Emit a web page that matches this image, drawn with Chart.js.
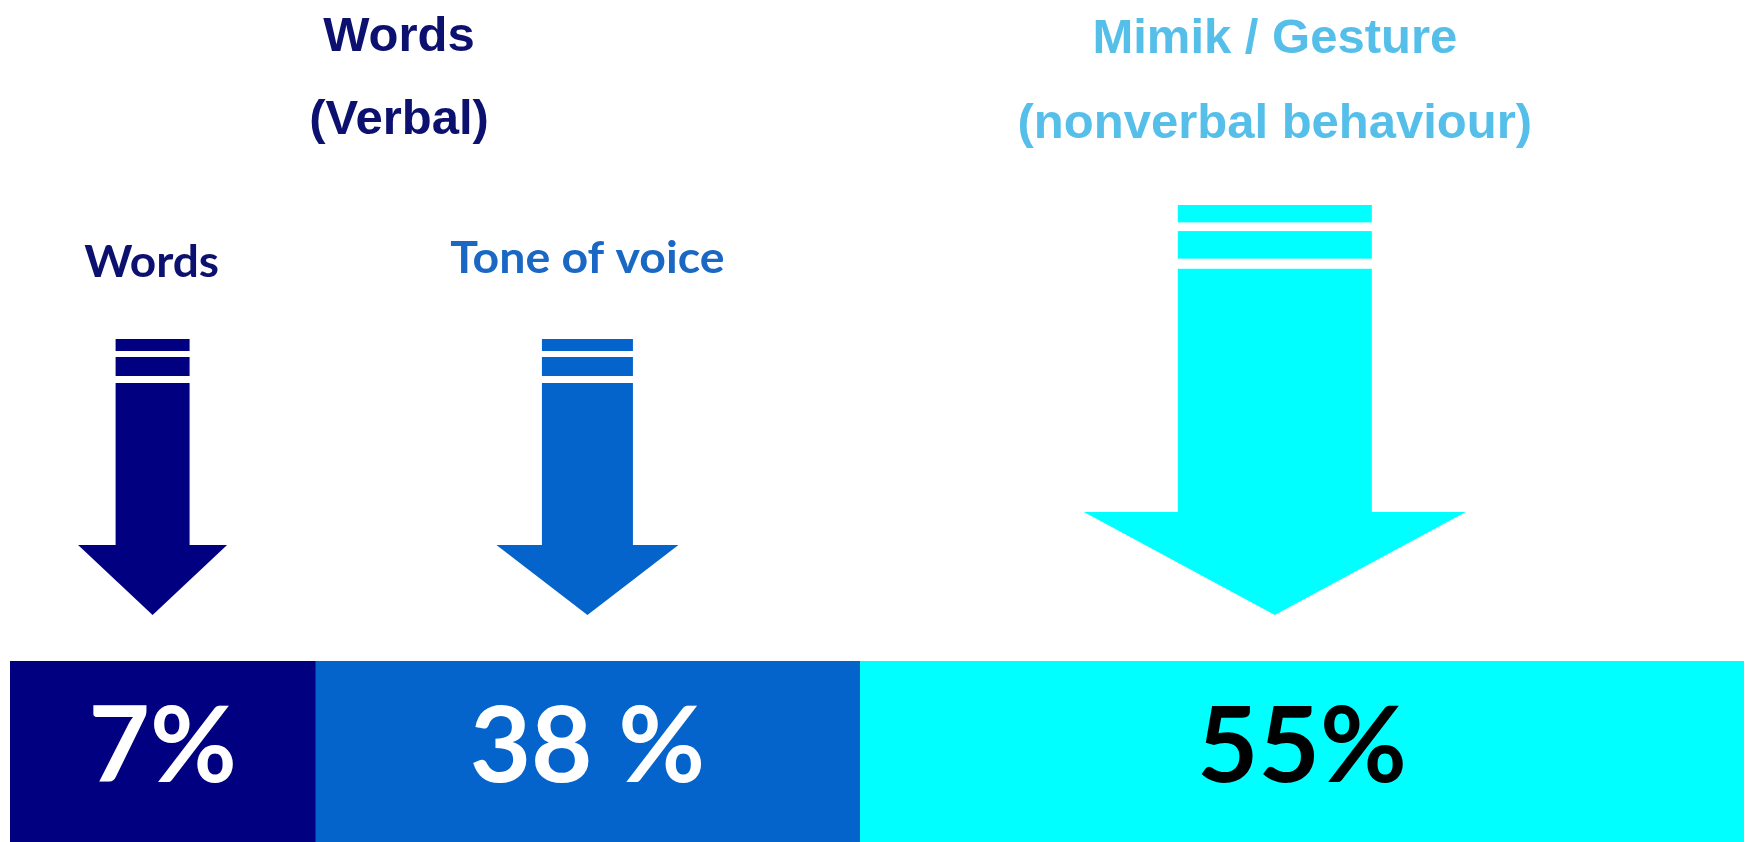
<!DOCTYPE html>
<html>
<head>
<meta charset="utf-8">
<script src="https://cdn.jsdelivr.net/npm/chart.js@4.4.0/dist/chart.umd.min.js"></script>
<style>
  html, body { margin: 0; padding: 0; background: #fff; }
  #wrap { width: 1752px; height: 842px; position: relative; }
</style>
</head>
<body>
<div id="wrap"><canvas id="chart"></canvas></div>
<script>
const categories = ['Words', 'Tone of voice', 'Mimik / Gesture'];
const percentValues = [7, 38, 55];
const percentLabels = ['7%', '38 %', '55%'];
// how much of the bar each block takes in the picture (blocks are not to scale)
const blockShare = [17.6, 31.4, 51.0];
const groupTitles = [['Words', '(Verbal)'], ['Mimik / Gesture', '(nonverbal behaviour)']];

const segColors = ['#000080', '#0563cc', '#00ffff'];
const valueColors = ['#ffffff', '#ffffff', '#000000'];
const labelColors = ['#0c1170', '#1a68c4'];
const groupColors = ['#0c1170', '#55bfea'];

// arrow shapes above each block
const arrowStyle = [
  { dx: -10, top: 339, shaft: 74, head: 149, headH: 70, stripe: 1 },
  { dx: 0, top: 339, shaft: 91, head: 182, headH: 70, stripe: 1 },
  { dx: -27, top: 205, shaft: 194, head: 382, headH: 103, stripe: 1.45 }
];

function drawArrow(ctx, cx, tip, a, color) {
  const bands = [12, 6, 19, 7].map(v => v * a.stripe);
  const left = cx - a.shaft / 2;
  const headTop = tip - a.headH;
  ctx.fillStyle = color;
  let y = a.top;
  ctx.fillRect(left, y, a.shaft, bands[0]);
  y += bands[0] + bands[1];
  ctx.fillRect(left, y, a.shaft, bands[2]);
  y += bands[2] + bands[3];
  ctx.fillRect(left, y, a.shaft, headTop - y + 1);
  ctx.beginPath();
  ctx.moveTo(cx - a.head / 2, headTop);
  ctx.lineTo(cx + a.head / 2, headTop);
  ctx.lineTo(cx, tip);
  ctx.closePath();
  ctx.fill();
}

// text stretched sideways a little
function wideText(ctx, text, x, y, sx) {
  ctx.save();
  ctx.translate(x, y);
  ctx.scale(sx, 1);
  ctx.fillText(text, 0, 0);
  ctx.restore();
}

const overlay = {
  id: 'overlay',
  afterDatasetsDraw(chart) {
    const ctx = chart.ctx;
    const area = chart.chartArea;
    const centers = chart.data.datasets.map((ds, i) => {
      const el = chart.getDatasetMeta(i).data[0];
      return (el.x + el.base) / 2;
    });
    ctx.save();
    ctx.textAlign = 'center';
    ctx.textBaseline = 'alphabetic';

    // percent labels inside the bar
    ctx.font = 'bold 106px Lato';
    centers.forEach((cx, i) => {
      ctx.fillStyle = valueColors[i];
      ctx.fillText(percentLabels[i], cx, 782);
    });

    // arrows
    const tip = area.top - 46;
    centers.forEach((cx, i) => {
      drawArrow(ctx, cx + arrowStyle[i].dx, tip, arrowStyle[i], segColors[i]);
    });

    // small labels over the first two arrows
    ctx.font = 'bold 43px Lato';
    ctx.fillStyle = labelColors[0];
    wideText(ctx, categories[0], centers[0] - 11, 277, 1.07);
    ctx.fillStyle = labelColors[1];
    wideText(ctx, categories[1], centers[1], 273, 1.08);

    // group titles
    ctx.font = 'bold 49px "Liberation Sans"';
    const gx = [(centers[0] + centers[1]) / 2 + 24, centers[2] - 27];
    groupTitles.forEach((lines, g) => {
      ctx.fillStyle = groupColors[g];
      ctx.fillText(lines[0], gx[g], g === 0 ? 51 : 53);
      ctx.fillText(lines[1], gx[g], g === 0 ? 134 : 138);
    });
    ctx.restore();
  }
};

const datasets = categories.map((c, i) => ({
  label: c,
  data: [blockShare[i]],
  backgroundColor: segColors[i],
  borderWidth: 0,
  borderSkipped: false,
  barPercentage: 1,
  categoryPercentage: 1
}));

new Chart(document.getElementById('chart'), {
  type: 'bar',
  data: { labels: [''], datasets: datasets },
  options: {
    indexAxis: 'y',
    responsive: true,
    maintainAspectRatio: false,
    animation: false,
    layout: { padding: { top: 661, left: 10, right: 8, bottom: 0 } },
    plugins: { legend: { display: false }, tooltip: { enabled: false } },
    scales: {
      x: { stacked: true, min: 0, max: 100, display: false },
      y: { stacked: true, display: false }
    }
  },
  plugins: [overlay]
});
</script>
</body>
</html>
